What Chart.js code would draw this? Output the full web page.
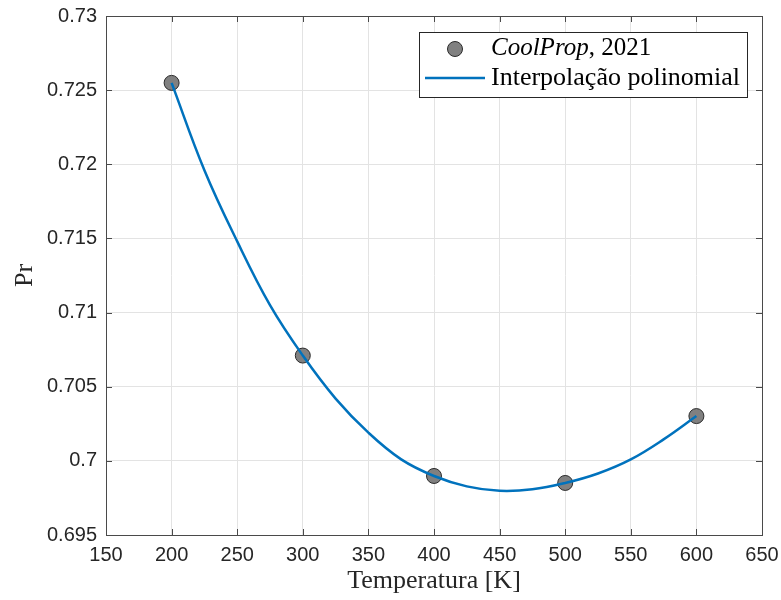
<!DOCTYPE html>
<html>
<head>
<meta charset="utf-8">
<script src="https://cdn.jsdelivr.net/npm/chart.js@4.4.1/dist/chart.umd.min.js"></script>
<style>
  html, body { margin: 0; padding: 0; background: #fff; }
  #wrap { width: 781px; height: 600px; }
</style>
</head>
<body>
<div id="wrap"><canvas id="prChart" width="781" height="600"></canvas></div>
<script>
// CoolProp data points (temperature in K, Prandtl number)
const dataTemps = [200, 300, 400, 500, 600];
const dataPr = [0.72549, 0.70710, 0.69898, 0.69851, 0.70302];

// polynomial curve
const curveTemps = [200, 225, 250, 275, 300, 325, 350, 375, 400, 425, 450, 475, 500, 525, 550, 575, 600];
const curvePr = [0.72549, 0.7196, 0.7148, 0.7105, 0.7071, 0.7042, 0.7019, 0.7001, 0.69898,
  0.69828, 0.69798, 0.69808, 0.69851, 0.69915, 0.7001, 0.70145, 0.70302];

const xTicks = [150, 200, 250, 300, 350, 400, 450, 500, 550, 600, 650];
const yTicks = [0.695, 0.7, 0.705, 0.71, 0.715, 0.72, 0.725, 0.73];

const colors = {
  line: "#0072bd",
  marker: "#808080",
  markerEdge: "#2b2b2b",
  axis: "#4a4a4a",
  grid: "#e3e3e3",
  text: "#262626",
};

const sansFont = "'Liberation Sans', Arial, sans-serif";
const serifFont = "'Liberation Serif', 'Times New Roman', serif";

// inward ticks on all four sides, box, and the legend inside the axes
const matlabAxes = {
  id: "matlabAxes",
  afterDatasetsDraw(chart) {
    const ctx = chart.ctx;
    const a = chart.chartArea;
    const xs = chart.scales.x;
    const ys = chart.scales.y;
    const len = 6;
    ctx.save();
    ctx.strokeStyle = colors.axis;
    ctx.lineWidth = 1;
    ctx.beginPath();
    xTicks.forEach((t) => {
      const px = Math.round(xs.getPixelForValue(t)) + 0.5;
      ctx.moveTo(px, a.bottom);
      ctx.lineTo(px, a.bottom - len);
      ctx.moveTo(px, a.top);
      ctx.lineTo(px, a.top + len);
    });
    yTicks.forEach((t) => {
      const py = Math.round(ys.getPixelForValue(t)) + 0.5;
      ctx.moveTo(a.left, py);
      ctx.lineTo(a.left + len, py);
      ctx.moveTo(a.right, py);
      ctx.lineTo(a.right - len, py);
    });
    ctx.stroke();
    ctx.strokeRect(Math.round(a.left) + 0.5, Math.round(a.top) + 0.5,
      Math.round(a.right - a.left), Math.round(a.bottom - a.top));

    // legend
    const bx = a.right - 343, by = a.top + 16, bw = 328, bh = 65;
    ctx.fillStyle = "#fff";
    ctx.fillRect(bx, by, bw, bh);
    ctx.strokeStyle = colors.text;
    ctx.strokeRect(bx + 0.5, by + 0.5, bw, bh);

    ctx.beginPath();
    ctx.arc(bx + 36, by + 17, 7.5, 0, Math.PI * 2);
    ctx.fillStyle = colors.marker;
    ctx.fill();
    ctx.strokeStyle = colors.markerEdge;
    ctx.stroke();

    ctx.beginPath();
    ctx.moveTo(bx + 6, by + 46);
    ctx.lineTo(bx + 66, by + 46);
    ctx.strokeStyle = colors.line;
    ctx.lineWidth = 2.5;
    ctx.stroke();

    ctx.fillStyle = "#000";
    ctx.textBaseline = "middle";
    ctx.textAlign = "left";
    ctx.font = "italic 25px " + serifFont;
    ctx.fillText("CoolProp", bx + 72, by + 16);
    const w = ctx.measureText("CoolProp").width;
    ctx.font = "25px " + serifFont;
    ctx.fillText(", 2021", bx + 72 + w, by + 16);
    ctx.font = "26px " + serifFont;
    ctx.fillText("Interpolação polinomial", bx + 72, by + 46);
    ctx.restore();
  },
};

new Chart(document.getElementById("prChart"), {
  type: "scatter",
  data: {
    datasets: [
      {
        label: "Interpolação polinomial",
        data: curveTemps.map((t, i) => ({ x: t, y: curvePr[i] })),
        showLine: true,
        borderColor: colors.line,
        borderWidth: 2.5,
        pointRadius: 0,
        tension: 0.4,
        order: 0,
      },
      {
        label: "CoolProp, 2021",
        data: dataTemps.map((t, i) => ({ x: t, y: dataPr[i] })),
        backgroundColor: colors.marker,
        borderColor: colors.markerEdge,
        borderWidth: 1,
        pointRadius: 7.5,
        order: 1,
      },
    ],
  },
  options: {
    responsive: false,
    animation: false,
    layout: { padding: { top: 16, right: 19, left: 0, bottom: 0 } },
    plugins: { legend: { display: false }, tooltip: { enabled: false } },
    scales: {
      x: {
        type: "linear",
        min: 150,
        max: 650,
        afterBuildTicks: (s) => { s.ticks = xTicks.map((v) => ({ value: v })); },
        afterFit: (s) => { s.height = 65; s.paddingLeft = 0; s.paddingRight = 0; },
        grid: { color: colors.grid, drawTicks: false },
        border: { display: false },
        ticks: {
          color: colors.text,
          padding: 8,
          maxRotation: 0,
          font: { family: sansFont, size: 20 },
        },
        title: {
          display: true,
          text: "Temperatura [K]",
          color: colors.text,
          font: { family: serifFont, size: 26 },
          padding: { top: 0, bottom: 3 },
        },
      },
      y: {
        type: "linear",
        min: 0.695,
        max: 0.73,
        afterBuildTicks: (s) => { s.ticks = yTicks.map((v) => ({ value: v })); },
        afterFit: (s) => { s.width = 106; s.paddingTop = 0; s.paddingBottom = 0; },
        grid: { color: colors.grid, drawTicks: false },
        border: { display: false },
        ticks: {
          color: colors.text,
          padding: 9,
          font: { family: sansFont, size: 20 },
          callback: (v) => String(Number(v.toFixed(3))),
        },
        title: {
          display: true,
          text: "Pr",
          color: colors.text,
          font: { family: serifFont, size: 26 },
          padding: { top: 10, bottom: 0 },
        },
      },
    },
  },
  plugins: [matlabAxes],
});
</script>
</body>
</html>
